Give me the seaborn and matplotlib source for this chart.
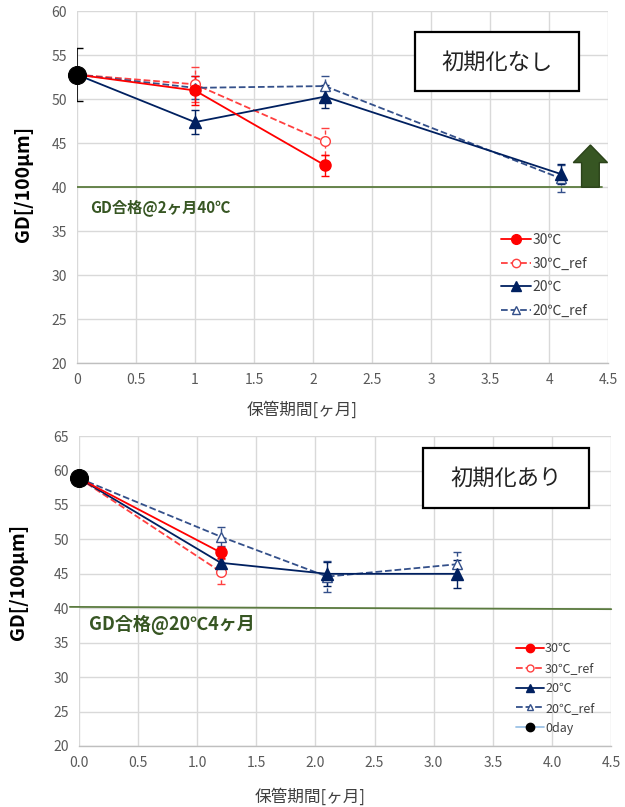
import matplotlib
matplotlib.use("Agg")
import matplotlib.pyplot as plt
import seaborn as sns
from matplotlib.lines import Line2D
from matplotlib.patches import Rectangle

sns.set_theme(style="whitegrid")
plt.rcParams['font.family'] = ['Noto Sans CJK JP', 'DejaVu Sans']

# ------------------------------------------------------------------
# data: top panel (初期化なし)
# ------------------------------------------------------------------
top_0day_x = [0]
top_0day_y = [52.8]
top_0day_err = [3.0]

top_30_x = [0, 1, 2.1]
top_30_y = [52.8, 51.0, 42.5]
top_30_err = [0, 1.6, 1.2]

top_30ref_x = [0, 1, 2.1]
top_30ref_y = [52.8, 51.7, 45.2]
top_30ref_err = [0, 2.0, 1.5]

top_20_x = [0, 1, 2.1, 4.1]
top_20_y = [52.8, 47.4, 50.3, 41.5]
top_20_err = [0, 1.4, 1.3, 1.1]

top_20ref_x = [0, 1, 2.1, 4.1]
top_20ref_y = [52.8, 51.3, 51.5, 41.0]
top_20ref_err = [0, 1.3, 1.2, 1.5]

# ------------------------------------------------------------------
# data: bottom panel (初期化あり)
# ------------------------------------------------------------------
bot_0day_x = [0]
bot_0day_y = [58.9]

bot_30_x = [0, 1.2]
bot_30_y = [58.9, 48.1]
bot_30_err = [0, 0.8]

bot_30ref_x = [0, 1.2]
bot_30ref_y = [58.9, 45.3]
bot_30ref_err = [0, 1.8]

bot_20_x = [0, 1.2, 2.1, 3.2]
bot_20_y = [58.9, 46.6, 45.0, 45.0]
bot_20_err = [0, 1.2, 1.7, 2.0]

bot_20ref_x = [0, 1.2, 2.1, 3.2]
bot_20ref_y = [58.9, 50.4, 44.6, 46.4]
bot_20ref_err = [0, 1.4, 2.2, 1.8]

threshold = 40
top_note = "GD合格@2ヶ月40℃"
bot_note = "GD合格@20℃4ヶ月"

RED = "#FF0000"
RED_REF = "#FF4040"
NAVY = "#002060"
NAVY_REF = "#34508A"
GREEN = "#375623"
GREEN_LINE = "#5B7B3F"
TICK = "#595959"


def series(ax, x, y, err, color, marker, ls, open_marker=False, ms=7):
    fc = "white" if open_marker else color
    sns.lineplot(x=x, y=y, ax=ax, color=color, linestyle=ls, linewidth=1.3,
                 marker=marker, markersize=ms, markerfacecolor=fc,
                 markeredgecolor=color, markeredgewidth=1.0, zorder=4)
    eb = ax.errorbar(x, y, yerr=err, fmt="none", ecolor=color, elinewidth=1.0,
                     capsize=3, capthick=1.0, zorder=3)
    if ls != "-":
        for lc in eb[2]:
            lc.set_linestyle((0, (3, 2)))


def style_axes(ax, ymax, xfmt):
    ax.set_xlim(0, 4.5)
    ax.set_ylim(20, ymax)
    ax.set_xticks([i * 0.5 for i in range(10)])
    ax.set_xticklabels([xfmt % (i * 0.5) for i in range(10)])
    ax.set_yticks(range(20, ymax + 1, 5))
    ax.grid(True, color="#D9D9D9", linewidth=1.0)
    ax.set_facecolor("white")
    for s in ["top", "right", "left"]:
        ax.spines[s].set_visible(False)
    ax.spines["bottom"].set_color("#BFBFBF")
    ax.spines["bottom"].set_linewidth(1.0)
    ax.tick_params(axis="both", labelsize=10, colors=TICK, length=0, pad=7)
    ax.set_ylabel("GD[/100μm]", fontsize=14, fontweight="bold", color="black")
    ax.set_xlabel("保管期間[ヶ月]", fontsize=12, color="#404040")


fig = plt.figure(figsize=(6.25, 8.07), dpi=100)
fig.patch.set_facecolor("white")
ax1 = fig.add_axes([0.123, 0.550, 0.850, 0.436])
ax2 = fig.add_axes([0.126, 0.0756, 0.852, 0.384])

# ---------------- top panel ----------------
style_axes(ax1, 60, "%g")
ax1.plot([0, 4.45], [threshold, threshold], color=GREEN_LINE, lw=1.3, zorder=2)
series(ax1, top_30ref_x, top_30ref_y, top_30ref_err, RED_REF, "o", "--", open_marker=True)
series(ax1, top_20ref_x, top_20ref_y, top_20ref_err, NAVY_REF, "^", "--", open_marker=True)
series(ax1, top_20_x, top_20_y, top_20_err, NAVY, "^", "-", ms=9)
series(ax1, top_30_x, top_30_y, top_30_err, RED, "o", "-", ms=8)
# 0day: error bar clipped at the axis edge, marker drawn in full
ax1.errorbar(top_0day_x, top_0day_y, yerr=top_0day_err, fmt="none", ecolor="black",
             elinewidth=1.2, capsize=4, zorder=6)
sns.lineplot(x=top_0day_x, y=top_0day_y, ax=ax1, color="black", marker="o",
             markersize=13, markeredgecolor="black", zorder=7, clip_on=False)
ax1.arrow(4.35, threshold, 0, 4.8, width=0.15, head_width=0.29, head_length=2.0,
          length_includes_head=True, fc=GREEN, ec="#2A4219", lw=1, zorder=5)
ax1.text(0.11, 37.7, top_note, color=GREEN, fontsize=11, fontweight="bold",
         va="center", ha="left")
ax1.add_patch(Rectangle((2.86, 50.9), 1.39, 6.7, fc="white", ec="black", lw=1.6, zorder=7))
ax1.text(3.555, 54.25, "初期化なし", fontsize=16, ha="center", va="center",
         color="#222222", zorder=8)

h_top = [
    Line2D([], [], color=RED, lw=1.3, marker="o", ms=7),
    Line2D([], [], color=RED_REF, lw=1.3, ls="--", marker="o", ms=6, mfc="white"),
    Line2D([], [], color=NAVY, lw=1.3, marker="^", ms=7),
    Line2D([], [], color=NAVY_REF, lw=1.3, ls="--", marker="^", ms=6, mfc="white"),
]
ax1.legend(h_top, ["30℃", "30℃_ref", "20℃", "20℃_ref"], loc="upper left",
           bbox_to_anchor=(0.785, 0.39), frameon=False, fontsize=10,
           handlelength=2.2, handletextpad=0.1, labelspacing=0.7, borderpad=0,
           labelcolor="#404040")
ax1.yaxis.set_label_coords(-0.083, 0.508)
ax1.xaxis.set_label_coords(0.424, -0.107)

# ---------------- bottom panel ----------------
style_axes(ax2, 65, "%.1f")
ax2.plot([-0.075, 4.5], [threshold + 0.2, threshold - 0.13], color=GREEN_LINE,
         lw=1.3, zorder=2, clip_on=False)
series(ax2, bot_30ref_x, bot_30ref_y, bot_30ref_err, RED_REF, "o", "--", open_marker=True)
series(ax2, bot_20ref_x, bot_20ref_y, bot_20ref_err, NAVY_REF, "^", "--", open_marker=True)
series(ax2, bot_20_x, bot_20_y, bot_20_err, NAVY, "^", "-", ms=9)
series(ax2, bot_30_x, bot_30_y, bot_30_err, RED, "o", "-", ms=8)
sns.lineplot(x=bot_0day_x, y=bot_0day_y, ax=ax2, color="black", marker="o",
             markersize=13, markeredgecolor="black", zorder=6, clip_on=False)
ax2.text(0.085, 37.5, bot_note, color=GREEN, fontsize=13, fontweight="bold",
         va="center", ha="left")
ax2.add_patch(Rectangle((2.91, 54.5), 1.40, 8.7, fc="white", ec="black", lw=1.6, zorder=7))
ax2.text(3.61, 58.85, "初期化あり", fontsize=16, ha="center", va="center",
         color="#222222", zorder=8)

h_bot = [
    Line2D([], [], color=RED, lw=1.3, marker="o", ms=6),
    Line2D([], [], color=RED_REF, lw=1.3, ls="--", marker="o", ms=5, mfc="white"),
    Line2D([], [], color=NAVY, lw=1.3, marker="^", ms=6),
    Line2D([], [], color=NAVY_REF, lw=1.3, ls="--", marker="^", ms=5, mfc="white"),
    Line2D([], [], color="#9DC3E6", lw=1.3, marker="o", ms=6, mfc="black", mec="black"),
]
ax2.legend(h_bot, ["30℃", "30℃_ref", "20℃", "20℃_ref", "0day"], loc="upper left",
           bbox_to_anchor=(0.81, 0.355), frameon=False, fontsize=9,
           handlelength=2.2, handletextpad=0.1, labelspacing=0.55, borderpad=0,
           labelcolor="#404040")
ax2.yaxis.set_label_coords(-0.096, 0.53)
ax2.xaxis.set_label_coords(0.434, -0.135)

fig.savefig("out.png", dpi=100, facecolor="white")
